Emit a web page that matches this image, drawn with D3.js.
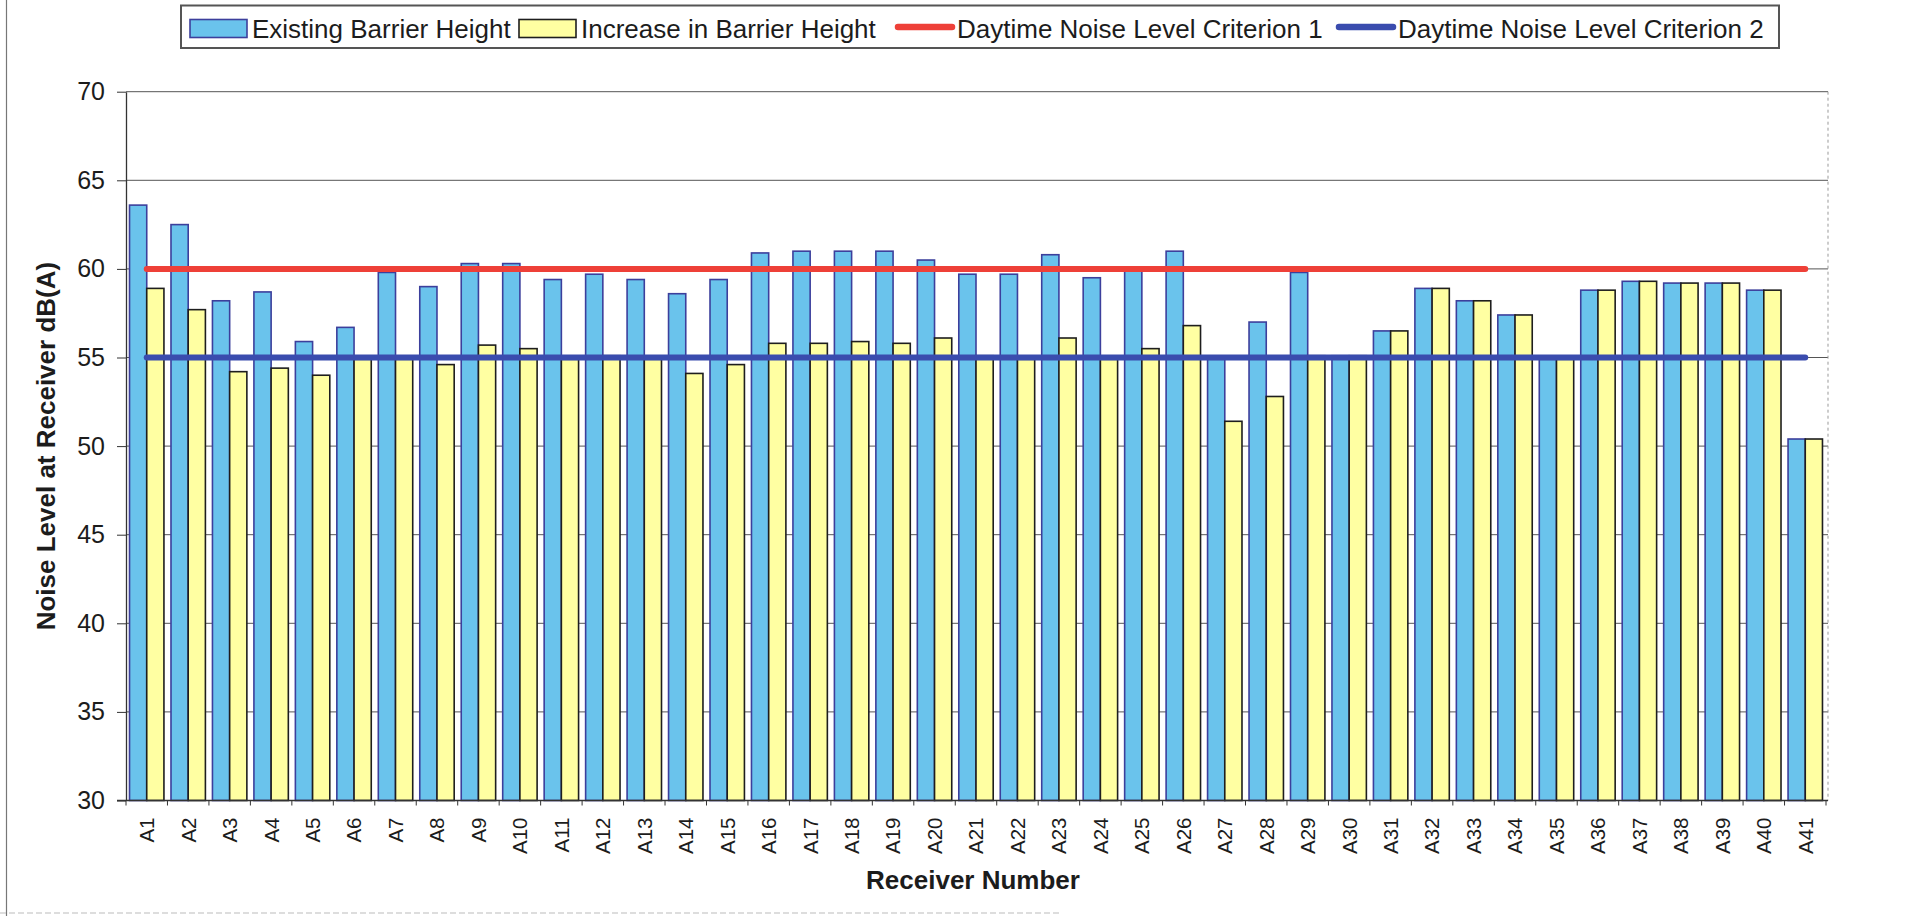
<!DOCTYPE html>
<html>
<head>
<meta charset="utf-8">
<script src="https://cdn.jsdelivr.net/npm/d3@7"></script>
<style>
  html, body { margin: 0; padding: 0; background: #fff; }
  svg { display: block; font-family: "Liberation Sans", Arial, sans-serif; }
</style>
</head>
<body>
<svg id="chart" width="1918" height="921"></svg>
<script>
// ---------------- DATA ----------------
const categories = ["A1","A2","A3","A4","A5","A6","A7","A8","A9","A10",
  "A11","A12","A13","A14","A15","A16","A17","A18","A19","A20",
  "A21","A22","A23","A24","A25","A26","A27","A28","A29","A30",
  "A31","A32","A33","A34","A35","A36","A37","A38","A39","A40","A41"];

const existingHeight = [63.6, 62.5, 58.2, 58.7, 55.9, 56.7, 59.8, 59.0, 60.3, 60.3,
  59.4, 59.7, 59.4, 58.6, 59.4, 60.9, 61.0, 61.0, 61.0, 60.5,
  59.7, 59.7, 60.8, 59.5, 60.1, 61.0, 54.9, 57.0, 59.8, 55.1,
  56.5, 58.9, 58.2, 57.4, 54.9, 58.8, 59.3, 59.2, 59.2, 58.8, 50.4];

const increasedHeight = [58.9, 57.7, 54.2, 54.4, 54.0, 54.9, 54.9, 54.6, 55.7, 55.5,
  54.9, 55.1, 54.9, 54.1, 54.6, 55.8, 55.8, 55.9, 55.8, 56.1,
  55.1, 54.9, 56.1, 54.9, 55.5, 56.8, 51.4, 52.8, 55.1, 55.1,
  56.5, 58.9, 58.2, 57.4, 54.9, 58.8, 59.3, 59.2, 59.2, 58.8, 50.4];

const criterion1 = 60;
const criterion2 = 55;

const yTicks = [30, 35, 40, 45, 50, 55, 60, 65, 70];

const seriesNames = ["Existing Barrier Height", "Increase in Barrier Height",
  "Daytime Noise Level Criterion 1", "Daytime Noise Level Criterion 2"];

// ---------------- STYLE ----------------
const blueFill = "#6ac3ec", blueStroke = "#3c3f9c";
const yellowFill = "#ffffa2", yellowStroke = "#1e1e1e";
const redLine = "#ee4038", blueLine = "#3a4cae";
const textColor = "#1c1c1c";

const svg = d3.select("#chart");
svg.append("rect").attr("width", 1918).attr("height", 921).attr("fill", "#fff");

const plot = { left: 126, right: 1826, top: 91.7, bottom: 800.5 };

const x = d3.scaleBand().domain(categories)
  .range([plot.left, plot.right]).paddingInner(0.17).paddingOuter(0.085);
const xs = d3.scaleBand().domain([0, 1]).range([0, x.bandwidth()]);
const y = d3.scaleLinear().domain([30, 70]).range([plot.bottom, plot.top]);

// scan artifacts: page edge lines
svg.append("line").attr("x1", 6.5).attr("x2", 6.5).attr("y1", 0).attr("y2", 916)
  .attr("stroke", "#777").attr("stroke-width", 1.2);
svg.append("line").attr("x1", 0).attr("x2", 1060).attr("y1", 913).attr("y2", 913)
  .attr("stroke", "#bbb").attr("stroke-width", 1).attr("stroke-dasharray", "6,3");

// gridlines
svg.append("g").selectAll("line").data(yTicks.filter(t => t > 30)).join("line")
  .attr("x1", plot.left).attr("x2", plot.right + 2)
  .attr("y1", d => y(d)).attr("y2", d => y(d))
  .attr("stroke", "#555").attr("stroke-width", 1);

// right border (faint dotted)
svg.append("line").attr("x1", plot.right + 2).attr("x2", plot.right + 2)
  .attr("y1", plot.top).attr("y2", plot.bottom)
  .attr("stroke", "#999").attr("stroke-width", 1).attr("stroke-dasharray", "3,3");

// bars
const groups = svg.append("g").selectAll("g").data(categories).join("g")
  .attr("transform", d => `translate(${x(d)},0)`);
groups.append("rect")
  .attr("x", xs(0)).attr("width", xs.bandwidth())
  .attr("y", (d, i) => y(existingHeight[i]))
  .attr("height", (d, i) => y(30) - y(existingHeight[i]))
  .attr("fill", blueFill).attr("stroke", blueStroke).attr("stroke-width", 1.6);
groups.append("rect")
  .attr("x", xs(1)).attr("width", xs.bandwidth())
  .attr("y", (d, i) => y(increasedHeight[i]))
  .attr("height", (d, i) => y(30) - y(increasedHeight[i]))
  .attr("fill", yellowFill).attr("stroke", yellowStroke).attr("stroke-width", 1.6);

// criterion lines
const cx = c => x(c) + x.bandwidth() / 2;
const lineGen = d3.line().x(d => cx(d.c)).y(d => y(d.v));
svg.append("path").datum(categories.map(c => ({ c, v: criterion1 })))
  .attr("d", lineGen).attr("fill", "none").attr("stroke", redLine)
  .attr("stroke-width", 6).attr("stroke-linecap", "round");
svg.append("path").datum(categories.map(c => ({ c, v: criterion2 })))
  .attr("d", lineGen).attr("fill", "none").attr("stroke", blueLine)
  .attr("stroke-width", 6).attr("stroke-linecap", "round");

// y axis
const yAxis = svg.append("g").attr("transform", `translate(${plot.left},0)`)
  .call(d3.axisLeft(y).tickValues(yTicks).tickSize(9).tickPadding(12).tickSizeOuter(0));
yAxis.select(".domain").attr("stroke", "#333").attr("stroke-width", 1.3);
yAxis.selectAll(".tick line").attr("stroke", "#333");
yAxis.selectAll("text").attr("font-size", 25).attr("fill", textColor)
  .attr("font-family", "'Liberation Sans', Arial, sans-serif");

// x axis line + ticks between categories
svg.append("line").attr("x1", plot.left - 9).attr("x2", plot.right + 2)
  .attr("y1", plot.bottom).attr("y2", plot.bottom).attr("stroke", "#333").attr("stroke-width", 1.3);
const boundaries = categories.map(c => x(c) - (x.step() - x.bandwidth()) / 2).concat([plot.right]);
svg.append("g").selectAll("line").data(boundaries).join("line")
  .attr("x1", d => d).attr("x2", d => d)
  .attr("y1", plot.bottom).attr("y2", plot.bottom + 5)
  .attr("stroke", "#333").attr("stroke-width", 1);

// x tick labels (rotated)
svg.append("g").selectAll("text").data(categories).join("text")
  .attr("transform", d => `translate(${cx(d)},${plot.bottom + 17}) rotate(-90)`)
  .attr("text-anchor", "end").attr("dy", "0.36em")
  .attr("font-size", 20.5).attr("fill", textColor).text(d => d);

// axis titles
svg.append("text").attr("x", (plot.left + plot.right) / 2 - 3).attr("y", 889)
  .attr("text-anchor", "middle").attr("font-size", 26).attr("font-weight", "bold")
  .attr("fill", textColor).text("Receiver Number");
svg.append("text").attr("transform", `translate(46,${(plot.top + plot.bottom) / 2}) rotate(-90)`)
  .attr("text-anchor", "middle").attr("dy", "0.36em").attr("font-size", 26)
  .attr("font-weight", "bold").attr("fill", textColor).text("Noise Level at Receiver dB(A)");

// legend
const legend = svg.append("g");
legend.append("rect").attr("x", 181).attr("y", 5.5).attr("width", 1598).attr("height", 42.5)
  .attr("fill", "#fff").attr("stroke", "#555").attr("stroke-width", 2);
const legendX = [190, 519, 895, 1336];
const legendTypes = ["bar", "bar", "line", "line"];
const legendFill = [blueFill, yellowFill, redLine, blueLine];
const legendStroke = [blueStroke, yellowStroke, redLine, blueLine];
seriesNames.forEach((name, i) => {
  const gx = legendX[i];
  if (legendTypes[i] === "bar") {
    legend.append("rect").attr("x", gx).attr("y", 19.5).attr("width", 57).attr("height", 18)
      .attr("fill", legendFill[i]).attr("stroke", legendStroke[i]).attr("stroke-width", 1.6);
  } else {
    legend.append("line").attr("x1", gx + 3).attr("x2", gx + 57).attr("y1", 27).attr("y2", 27)
      .attr("stroke", legendFill[i]).attr("stroke-width", 6.5).attr("stroke-linecap", "round");
  }
  legend.append("text").attr("x", gx + 62).attr("y", 37.5)
    .attr("font-size", 26).attr("fill", textColor).text(name);
});
</script>
</body>
</html>
